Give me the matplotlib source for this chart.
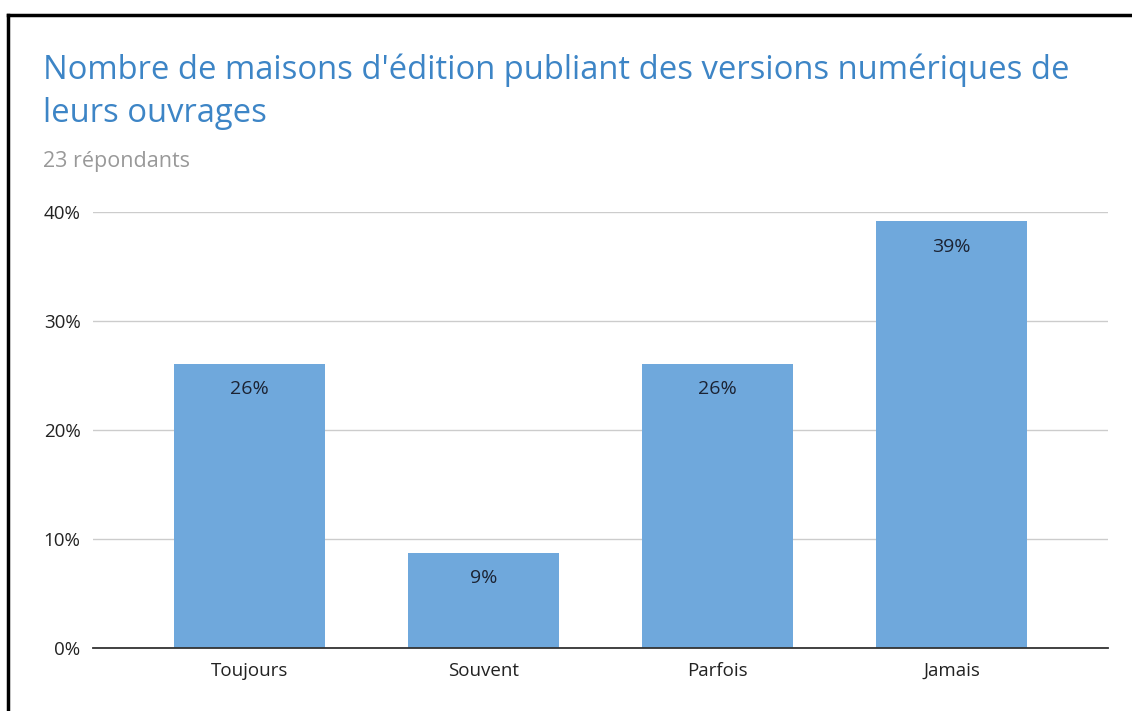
import matplotlib
matplotlib.use("Agg")
import matplotlib.pyplot as plt
from matplotlib.ticker import FuncFormatter

categories = ["Toujours", "Souvent", "Parfois", "Jamais"]
values = [26.09, 8.70, 26.09, 39.13]
labels = ["26%", "9%", "26%", "39%"]
yticks = [0, 10, 20, 30, 40]

plt.rcParams['font.family'] = ['Open Sans', 'DejaVu Sans']

W, H = 1132, 711
fig = plt.figure(figsize=(W/100, H/100), dpi=100)
fig.patch.set_facecolor("white")

# axes placement in pixels
x0, x1 = 93, 1108
y0, y1 = 648, 212
ax = fig.add_axes([x0/W, 1 - y0/H, (x1-x0)/W, (y0-y1)/H])

ax.bar(range(len(categories)), values, width=0.645, color="#6fa8dc", zorder=3)
for i, (v, t) in enumerate(zip(values, labels)):
    ax.text(i, v - 2.3, t, ha="center", va="center", fontsize=14, color="#1c2333", zorder=4)

ax.set_xlim(-0.667, 3.667)
ax.set_ylim(0, 40)
ax.set_yticks(yticks)
ax.yaxis.set_major_formatter(FuncFormatter(lambda v, p: f"{int(v)}%"))
ax.set_xticks(range(len(categories)))
ax.set_xticklabels(categories)
ax.tick_params(axis="both", length=0, labelsize=13.5, colors="#222222")
ax.tick_params(axis="y", pad=9)
ax.tick_params(axis="x", pad=10)
ax.grid(axis="y", color="#cccccc", linewidth=1, zorder=0)
ax.set_axisbelow(True)
for s in ["top", "right", "left"]:
    ax.spines[s].set_visible(False)
ax.spines["bottom"].set_color("#333333")
ax.spines["bottom"].set_linewidth(1.3)
ax.spines["bottom"].set_zorder(5)

fig.text(43/W, 1 - 70/H, "Nombre de maisons d'édition publiant des versions numériques de",
         fontsize=23.6, color="#3d85c6", va="center", ha="left")
fig.text(43/W, 1 - 113/H, "leurs ouvrages",
         fontsize=23.6, color="#3d85c6", va="center", ha="left")
fig.text(43/W, 1 - 162/H, "23 répondants", fontsize=15.5, color="#999999", va="center", ha="left")

# frame border
fig.add_artist(plt.Line2D([8/W, 8/W], [0, 1 - 15/H], color="black", linewidth=2.5, transform=fig.transFigure))
fig.add_artist(plt.Line2D([8/W, 1], [1 - 15/H, 1 - 15/H], color="black", linewidth=2.5, transform=fig.transFigure))

fig.savefig("out.png", dpi=100)
